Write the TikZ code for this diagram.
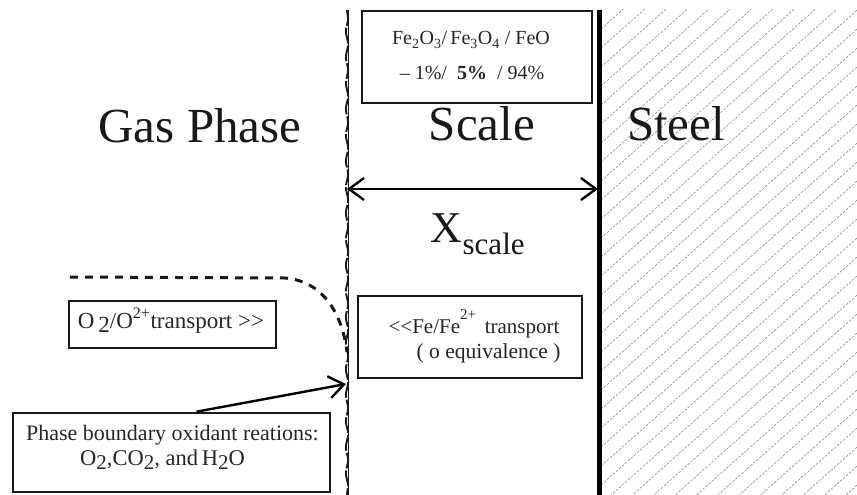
\documentclass[tikz,border=0pt]{standalone}
\usepackage{fontspec}
\setmainfont{Liberation Serif}
\usetikzlibrary{arrows.meta,decorations.pathmorphing}

\newcommand{\fsz}[1]{\fontsize{#1}{#1}\selectfont}

\begin{document}
\begin{tikzpicture}[x=1pt,y=-1pt,
  framebox/.style={draw=black!90, line width=2.6pt, inner sep=0pt},
  bigword/.style={anchor=base, text=black!90, font=\fsz{49}},
  boxtext/.style={anchor=base, text=black!85, font=\fsz{20}},
  barbtip/.tip={Straight Barb[length=15pt,width=22pt,line width=2.4pt]},
  barb/.style={-barbtip, line width=2.4pt},
]
\useasboundingbox (0,0) rectangle (857,495);
\fill[white] (0,0) rectangle (857,495);

% hatched steel region
\begin{scope}
  \clip (601,10) rectangle (857,495);
  \foreach \k in {0,...,40}
    \draw[black!45, line width=0.6pt, dash pattern=on 2.6pt off 1.4pt]
      (601,{10+19*\k}) -- (857,{10+19*\k-256*0.89});
\end{scope}

% scale / gas boundary (irregular) and scale / steel interface
\coordinate (bt) at (347,10);
\coordinate (bb) at (347,495);
\draw[black!90, line width=1.9pt, dash pattern=on 16pt off 2pt, decorate,
      decoration={snake, amplitude=1.1pt, segment length=26pt}] (bt) -- (bb);
\draw[black!90, line width=0.7pt] ([xshift=1pt]bt) -- ([xshift=1pt]bb);
\coordinate (st) at (599.5,10);
\coordinate (sb) at (599.5,495);
\draw[black, line width=5pt] (st) -- (sb);

% region names
\node[bigword] (gas)   at (200,142) {Gas Phase};
\node[bigword] (scale) at (482,140) {Scale};
\node[bigword] (steel) at (676,140) {Steel};

% oxide composition box
\node[framebox, minimum width=230pt, minimum height=92pt] (comp) at (477,57) {};
\node[boxtext] (compA) at (471,45) {Fe\textsubscript{2}O\textsubscript{3}/\,Fe\textsubscript{3}O\textsubscript{4} / FeO};
\node[boxtext] (compB) at (472,80) {– 1\%/\enspace\textbf{5\%}\enspace/ 94\%};

% scale thickness
\coordinate (xl) at (347,189);
\coordinate (xr) at (598,189);
\draw[barbtip-barbtip, line width=2.4pt] (xl) -- (xr);
\node[anchor=base, text=black!90, font=\fsz{44}] (xs) at (478,242) {X\textsubscript{\fsz{31}scale}};

% gas-side boundary layer
\coordinate (d0) at (70,277);
\coordinate (d1) at (347,352);
\draw[black!90, line width=3pt, dash pattern=on 8pt off 7pt]
  (d0) -- (285,278) .. controls (322,281) and (342,312) .. (d1);

% oxygen transport
\node[framebox, minimum width=207pt, minimum height=47pt] (oxy) at (172.5,324.5) {};
\node[boxtext, font=\fsz{23}] (oxyT) at (171,328) {O\,\raisebox{-4pt}{2}/O\textsuperscript{2+}transport >\kern0pt>};

% iron transport
\node[framebox, minimum width=224pt, minimum height=82pt] (iron) at (470,337) {};
\node[boxtext, font=\fsz{21}] (ironA) at (474,333) {<\kern0pt<Fe/Fe\raisebox{14pt}{\fsz{15}2+}\, transport};
\node[boxtext, font=\fsz{21.5}, anchor=base east] (ironB) at (564,358) {( o equivalence )};

% phase boundary reactions
\node[framebox, minimum width=317pt, minimum height=79pt] (pb) at (171.5,452.5) {};
\node[boxtext, font=\fsz{22}] (pbA) at (172.5,440) {Phase boundary oxidant reations:};
\node[boxtext, font=\fsz{22.5}] (pbB) at (162.5,465) {O\raisebox{-4pt}{\fsz{21}2},CO\raisebox{-4pt}{\fsz{21}2}, and\,H\raisebox{-4pt}{\fsz{21}2}O};
\coordinate (hit) at (346,384);
\draw[barb] ([xshift=25pt]pb.north) -- (hit);
\end{tikzpicture}
\end{document}
